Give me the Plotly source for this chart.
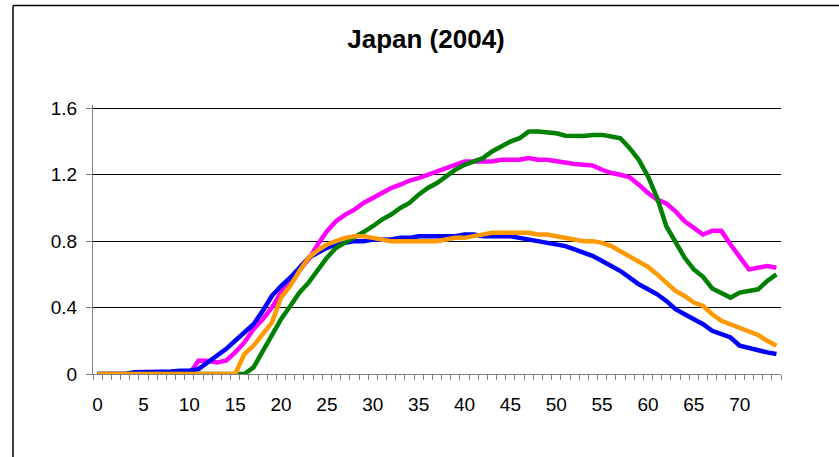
import plotly.graph_objects as go

ages = list(range(75))
tick_vals = [0, 5, 10, 15, 20, 25, 30, 35, 40, 45, 50, 55, 60, 65, 70]
tick_text = [str(v) for v in tick_vals]
y_ticks = [0, 0.4, 0.8, 1.2, 1.6]
y_text = ["0", "0.4", "0.8", "1.2", "1.6"]

blue = [0, 0, 0, 0, 0.01, 0.01, 0.01, 0.01, 0.015, 0.02,
        0.02, 0.03, 0.07, 0.11, 0.15, 0.20, 0.25, 0.30, 0.38, 0.47,
        0.53, 0.58, 0.64, 0.70, 0.73, 0.76, 0.78, 0.79, 0.80, 0.80,
        0.81, 0.81, 0.81, 0.82, 0.82, 0.83, 0.83, 0.83, 0.83, 0.83,
        0.84, 0.84, 0.83, 0.83, 0.83, 0.83, 0.82, 0.81, 0.80, 0.79,
        0.78, 0.77, 0.75, 0.73, 0.71, 0.68, 0.65, 0.62, 0.58, 0.54,
        0.51, 0.48, 0.44, 0.39, 0.36, 0.33, 0.30, 0.26, 0.24, 0.22,
        0.17, 0.155, 0.14, 0.13, 0.12]

magenta = [0, 0, 0, 0, 0, 0, 0, 0, 0, 0,
           0, 0.08, 0.08, 0.07, 0.08, 0.13, 0.19, 0.27, 0.33, 0.40,
           0.49, 0.56, 0.62, 0.69, 0.78, 0.86, 0.92, 0.96, 0.99, 1.03,
           1.06, 1.09, 1.12, 1.14, 1.165, 1.18, 1.20, 1.22, 1.245, 1.265,
           1.28, 1.28, 1.28, 1.28, 1.29, 1.29, 1.29, 1.30, 1.29, 1.29,
           1.28, 1.27, 1.265, 1.26, 1.255, 1.23, 1.21, 1.20, 1.185, 1.14,
           1.09, 1.05, 1.027, 0.98, 0.92, 0.88, 0.84, 0.862, 0.862, 0.78,
           0.70, 0.63, 0.64, 0.65, 0.64]

green = [0, 0, 0, 0, 0, 0, 0, 0, 0, 0,
         0, 0, 0, 0, 0, 0, 0, 0.04, 0.14, 0.23,
         0.33, 0.41, 0.49, 0.55, 0.63, 0.70, 0.76, 0.79, 0.82, 0.855,
         0.89, 0.93, 0.96, 1.00, 1.03, 1.08, 1.12, 1.15, 1.19, 1.23,
         1.26, 1.28, 1.30, 1.34, 1.37, 1.40, 1.42, 1.46, 1.46, 1.455,
         1.45, 1.435, 1.434, 1.434, 1.44, 1.44, 1.43, 1.42, 1.36, 1.29,
         1.19, 1.06, 0.89, 0.79, 0.70, 0.63, 0.585, 0.515, 0.485, 0.46,
         0.49, 0.50, 0.51, 0.56, 0.60]

orange = [0, 0, 0, 0, 0, 0, 0, 0, 0, 0,
          0, 0, 0, 0, 0, 0, 0.12, 0.17, 0.24, 0.31,
          0.46, 0.53, 0.62, 0.70, 0.745, 0.78, 0.80, 0.82, 0.83, 0.83,
          0.82, 0.81, 0.80, 0.80, 0.80, 0.80, 0.80, 0.80, 0.81, 0.82,
          0.82, 0.83, 0.84, 0.85, 0.85, 0.85, 0.85, 0.85, 0.84, 0.84,
          0.83, 0.82, 0.81, 0.80, 0.80, 0.79, 0.77, 0.74, 0.71, 0.68,
          0.645, 0.60, 0.55, 0.50, 0.47, 0.43, 0.41, 0.36, 0.32, 0.30,
          0.28, 0.26, 0.235, 0.20, 0.17]

series = [
    ("magenta", magenta, "#FF00FF"),
    ("blue", blue, "#0000FF"),
    ("green", green, "#008000"),
    ("orange", orange, "#FF9900"),
]

FONT = "Liberation Sans, Arial, sans-serif"

W, H = 839, 457
Y_TOP = 1.62                 # a little headroom so the 1.6 gridline is drawn
PX_PER_UNIT = 266 / 1.6
L = 93
PW = 688
PH = Y_TOP * PX_PER_UNIT
BOTTOM = 374
T = BOTTOM - PH

fig = go.Figure()
for name, vals, col in series:
    fig.add_trace(go.Scatter(x=ages, y=vals, mode="lines", name=name,
                             line=dict(color=col, width=4.5), hoverinfo="skip"))

fig.update_layout(
    width=W, height=H,
    margin=dict(l=L, r=W - L - PW, t=T, b=H - BOTTOM, pad=0),
    paper_bgcolor="white", plot_bgcolor="white",
    showlegend=False,
    font=dict(family=FONT, size=19, color="black"),
    title=dict(text="<b>Japan (2004)</b>", x=426 / W, xref="container", xanchor="center",
               y=1 - 39 / H, yref="container", yanchor="middle",
               font=dict(family=FONT, size=26, color="black")),
    xaxis=dict(range=[-0.5, 74.5], tickmode="array", tickvals=tick_vals, ticktext=tick_text,
               ticks="", showgrid=False, zeroline=False, ticklabelstandoff=13,
               showline=True, linecolor="#808080", linewidth=1,
               minor=dict(tickmode="linear", tick0=-0.5, dtick=1, ticks="outside",
                          ticklen=5, tickcolor="#808080", tickwidth=1, showgrid=False),
               tickfont=dict(size=19), fixedrange=True),
    yaxis=dict(range=[0, Y_TOP], tickmode="array", tickvals=y_ticks, ticktext=y_text,
               ticks="outside", ticklen=6, tickcolor="#808080", ticklabelstandoff=5,
               showgrid=True, gridcolor="black", gridwidth=1, zeroline=False,
               showline=True, linecolor="#808080", linewidth=1,
               tickfont=dict(size=19), fixedrange=True),
)

# outer chart frame (left and top edges are visible, the rest runs off the picture)
fig.add_shape(type="line", xref="paper", yref="paper",
              x0=(13 - L) / PW, x1=(13 - L) / PW,
              y0=(BOTTOM - 470) / PH, y1=(BOTTOM - 5) / PH,
              line=dict(color="black", width=1.5))
fig.add_shape(type="line", xref="paper", yref="paper",
              x0=(13 - L) / PW, x1=(850 - L) / PW,
              y0=(BOTTOM - 5) / PH, y1=(BOTTOM - 5) / PH,
              line=dict(color="black", width=1.5))

fig.write_html("out.html", config={"displayModeBar": False},
               post_script="document.body.style.margin='0px';")
